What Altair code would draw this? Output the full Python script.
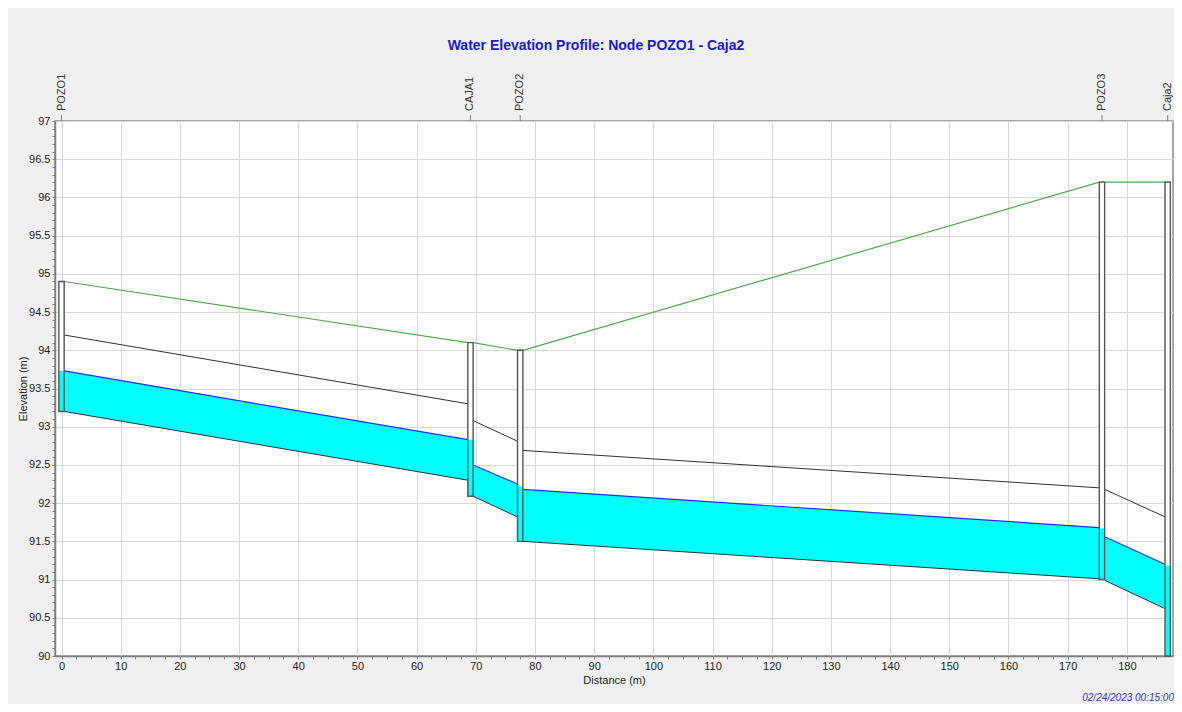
import altair as alt
import pandas as pd

# ---------------- data ----------------
node_names = ["POZO1", "CAJA1", "POZO2", "POZO3", "Caja2"]
node_dist = [0.0, 69.1, 77.5, 175.8, 186.9]
node_rim = [94.9, 94.1, 94.0, 96.2, 96.2]
node_invert = [93.2, 92.09, 91.5, 91.0, 90.0]
node_water = [93.73, 92.83, 92.22, 91.67, 91.18]

link_in_invert = [93.2, 92.09, 91.50, 90.99]
link_out_invert = [92.3, 91.82, 91.01, 90.62]
link_in_crown = [94.2, 93.08, 92.69, 92.18]
link_out_crown = [93.3, 92.81, 92.20, 91.82]
link_in_water = [93.73, 92.50, 92.18, 91.56]
link_out_water = [92.83, 92.25, 91.68, 91.20]

x_tick_values = [i * 2.5 for i in range(0, 75)]
y_tick_values = [round(90 + i * 0.1, 1) for i in range(0, 71)]

title_text = "Water Elevation Profile: Node POZO1 - Caja2"
stamp_text = "02/24/2023 00:15:00"

# ---------------- style ----------------
HW = 0.45  # half width of a node shaft (m)
W, H = 1118, 535
PAD = {"left": 47, "top": 113, "right": 1, "bottom": 48}
FONT_N = "Liberation Sans Narrow, Arial Narrow, Liberation Sans, Arial, sans-serif"
FONT = "Liberation Sans, Arial, sans-serif"
CYAN = "#00ffff"

# ---------------- tables ----------------
link_rows = []
for i in range(len(link_in_invert)):
    link_rows.append(dict(link=i, x=node_dist[i] + HW, invert=link_in_invert[i],
                          crown=link_in_crown[i], water=link_in_water[i]))
    link_rows.append(dict(link=i, x=node_dist[i + 1] - HW, invert=link_out_invert[i],
                          crown=link_out_crown[i], water=link_out_water[i]))
links = pd.DataFrame(link_rows)

nodes = pd.DataFrame(dict(
    name=node_names,
    x=node_dist,
    x1=[d - HW for d in node_dist],
    x2=[d + HW for d in node_dist],
    rim=node_rim,
    invert=node_invert,
    water=node_water,
))

ground_rows = []
for d, r in zip(node_dist, node_rim):
    ground_rows.append(dict(x=d - HW, rim=r))
    ground_rows.append(dict(x=d + HW, rim=r))
ground = pd.DataFrame(ground_rows)

# ---------------- scales / axes ----------------
xscale = alt.Scale(domain=[-1.1, 187.8], nice=False, zero=False)
yscale = alt.Scale(domain=[90, 97], nice=False, zero=False)

x_major = "abs(datum.value / 10 - round(datum.value / 10)) < 0.001"
y_major = "abs(datum.value * 2 - round(datum.value * 2)) < 0.001"

xaxis = alt.Axis(
    values=x_tick_values,
    labelExpr=f"{x_major} ? toString(round(datum.value)) : ''",
    title="Distance (m)",
    grid=True,
    gridColor="#d9d9d9",
    gridOpacity={"condition": {"test": x_major, "value": 1}, "value": 0},
    tickSize=3,
    tickColor="#808080",
    domainColor="#808080",
    domainWidth=1.5,
    labelFont=FONT_N, labelFontSize=11, labelColor="#222222", labelPadding=1,
    labelFlush=False, labelOverlap=False,
    titleFont=FONT_N, titleFontSize=11, titleColor="#222222", titleFontWeight="normal",
    titlePadding=3,
)
yaxis = alt.Axis(
    values=y_tick_values,
    labelExpr=f"{y_major} ? toString(round(datum.value * 2) / 2) : ''",
    title="Elevation (m)",
    grid=True,
    gridColor="#d9d9d9",
    gridOpacity={"condition": {"test": y_major, "value": 1}, "value": 0},
    tickSize=3,
    tickColor="#808080",
    domainColor="#808080",
    domainWidth=1.5,
    labelFont=FONT_N, labelFontSize=11, labelColor="#222222", labelPadding=2,
    labelFlush=False, labelOverlap=False,
    titleFont=FONT_N, titleFontSize=11, titleColor="#222222", titleFontWeight="normal",
    titlePadding=0,
)


def X(field):
    return alt.X(field, type="quantitative", scale=xscale, axis=xaxis)


def Y(field):
    return alt.Y(field, type="quantitative", scale=yscale, axis=yaxis)


# ---------------- layers ----------------
pipe_water = alt.Chart(links).mark_area(color=CYAN, opacity=1).encode(
    x=X("x"), y=Y("invert"), y2="water", detail="link:N"
)
crown_line = alt.Chart(links).mark_line(color="#333333", strokeWidth=1).encode(
    x=X("x"), y=Y("crown"), detail="link:N"
)
water_line = alt.Chart(links).mark_line(color="#2a2aff", strokeWidth=1.2).encode(
    x=X("x"), y=Y("water"), detail="link:N"
)
invert_line = alt.Chart(links).mark_line(color="#1e3838", strokeWidth=1).encode(
    x=X("x"), y=Y("invert"), detail="link:N"
)
ground_line = alt.Chart(ground).mark_line(color="#52a852", strokeWidth=1.2).encode(
    x=X("x"), y=Y("rim")
)
shaft_fill = alt.Chart(nodes).mark_rect(color="white").encode(
    x=X("x1"), x2="x2", y=Y("invert"), y2="rim"
)
shaft_water = alt.Chart(nodes).mark_rect(color=CYAN).encode(
    x=X("x1"), x2="x2", y=Y("invert"), y2="water"
)
shaft_outline = alt.Chart(nodes).mark_rect(
    fillOpacity=0, stroke="#555555", strokeWidth=1.4
).encode(x=X("x1"), x2="x2", y=Y("invert"), y2="rim")

node_labels = alt.Chart(nodes).mark_text(
    angle=270, align="left", baseline="middle", font=FONT, fontSize=11, color="#333333"
).encode(x=X("x"), y=alt.value(-10), text="name:N")
node_ticks = alt.Chart(nodes).mark_rule(color="#808080", strokeWidth=1).encode(
    x=X("x"), y=alt.value(-6), y2=alt.value(0)
)
stamp = alt.Chart(pd.DataFrame({"t": [stamp_text]})).mark_text(
    align="right", baseline="middle", font=FONT_N, fontSize=10, fontStyle="italic",
    color="#3636d0"
).encode(x=alt.value(W + 1), y=alt.value(H + 42), text="t:N")

chart = alt.layer(
    pipe_water, crown_line, water_line, invert_line, ground_line,
    shaft_fill, shaft_water, shaft_outline, node_ticks, node_labels, stamp
).properties(
    width=W,
    height=H,
    autosize=alt.AutoSizeParams(type="none"),
    padding=PAD,
    background="#f0f0f0",
    title=alt.TitleParams(
        title_text, anchor="middle", fontSize=14, font=FONT_N, fontWeight="bold",
        color="#1a1ad8", offset=21, dx=-18
    ),
).configure_view(
    stroke="#8a8a8a", strokeWidth=1.5, fill="white"
)

chart.save("out.html", embed_options={"renderer": "svg", "actions": False})
